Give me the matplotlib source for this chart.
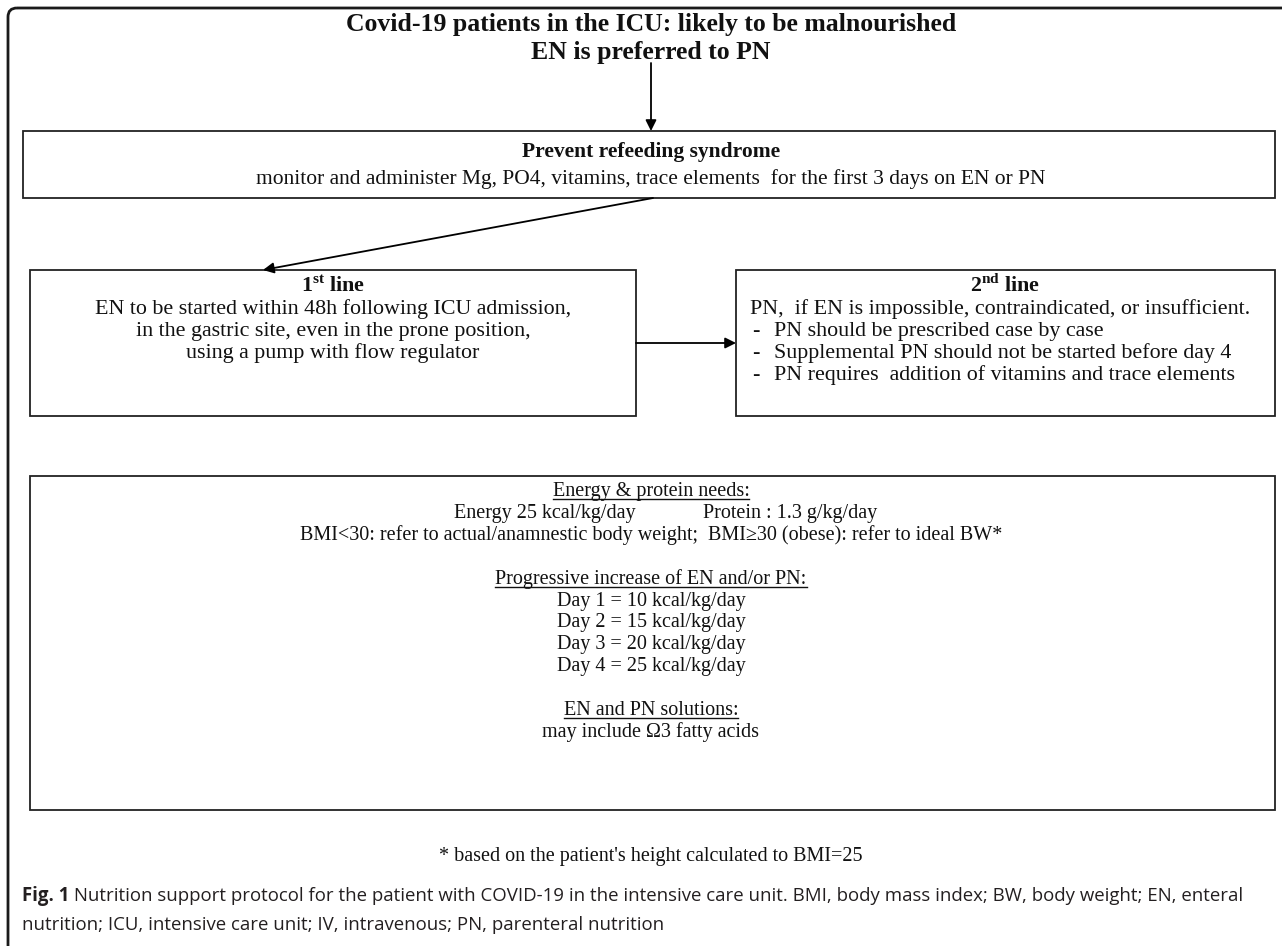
import matplotlib
matplotlib.use("Agg")
import matplotlib.pyplot as plt
from matplotlib.patches import Rectangle, FancyBboxPatch

plt.rcParams['font.family'] = ['Liberation Serif', 'DejaVu Serif']
plt.rcParams['mathtext.fontset'] = 'custom'
plt.rcParams['mathtext.rm'] = 'Liberation Serif'
plt.rcParams['mathtext.bf'] = 'Liberation Serif:bold'

# texts of the flowchart
title_lines = ["Covid-19 patients in the ICU: likely to be malnourished",
               "EN is preferred to PN"]
refeed_title = "Prevent refeeding syndrome"
refeed_text = ("monitor and administer Mg, PO4, vitamins, trace elements  "
               "for the first 3 days on EN or PN")
first_title = r"1$^{\mathbf{st}}$ line"
first_lines = ["EN to be started within 48h following ICU admission,",
               "in the gastric site, even in the prone position,",
               "using a pump with flow regulator"]
second_title = r"2$^{\mathbf{nd}}$ line"
second_head = "PN,  if EN is impossible, contraindicated, or insufficient."
second_items = ["PN should be prescribed case by case",
                "Supplemental PN should not be started before day 4",
                "PN requires  addition of vitamins and trace elements"]
needs_head = "Energy & protein needs:"
energy_need = "Energy 25 kcal/kg/day"
protein_need = "Protein : 1.3 g/kg/day"
bmi_rule = "BMI<30: refer to actual/anamnestic body weight;  BMI\u226530 (obese): refer to ideal BW*"
ramp_head = "Progressive increase of EN and/or PN:"
ramp_days = [1, 2, 3, 4]
ramp_kcal = [10, 15, 20, 25]
sol_head = "EN and PN solutions:"
sol_text = "may include \u03a93 fatty acids"
footnote = "* based on the patient's height calculated to BMI=25"
caption_bold = "Fig. 1"
caption_1 = (" Nutrition support protocol for the patient with COVID-19 in the intensive care unit. "
             "BMI, body mass index; BW, body weight; EN, enteral")
caption_2 = "nutrition; ICU, intensive care unit; IV, intravenous; PN, parenteral nutrition"

W, H = 1282, 946
fig = plt.figure(figsize=(W / 100, H / 100), dpi=100)
ax = fig.add_axes([0, 0, 1, 1])
ax.set_xlim(0, W)
ax.set_ylim(H, 0)
ax.axis('off')

body = 14.5
upper = 15.5
side = 15.8
ink = '#111111'


def box(x0, y0, x1, y1):
    ax.add_patch(Rectangle((x0, y0), x1 - x0, y1 - y0, fill=False,
                           ec='#222222', lw=1.3))


def arrow(x0, y0, x1, y1):
    ax.annotate('', xy=(x1, y1), xytext=(x0, y0),
                arrowprops=dict(arrowstyle='-|>', color='black', lw=1.3,
                                mutation_scale=16, shrinkA=0, shrinkB=0))


def line(x, y, s, ha='center', bold=False, size=body, under=False):
    t = ax.text(x, y, s, ha=ha, va='center', fontsize=size, color=ink,
                fontweight='bold' if bold else 'normal')
    if under:
        r = fig.canvas.get_renderer()
        bb = t.get_window_extent(r).transformed(ax.transData.inverted())
        yb = max(bb.y0, bb.y1) - 2
        ax.plot([bb.x0, bb.x1], [yb, yb], color=ink, lw=1.0)
    return t


# outer frame
ax.add_patch(FancyBboxPatch((8, 8), 1320, 980, boxstyle="round,pad=0,rounding_size=9",
                            fill=False, ec='#1a1a1a', lw=2.0, clip_on=True))

# title
line(651, 24, title_lines[0], bold=True, size=18.5)
line(651, 52, title_lines[1], bold=True, size=18.5)
arrow(651, 63, 651, 131)

# refeeding box
box(23, 131, 1275, 198)
line(651, 152, refeed_title, bold=True, size=upper)
line(651, 179, refeed_text, size=upper)
arrow(653, 198, 263, 270)

# 1st line
box(30, 270, 636, 416)
line(333, 286, first_title, bold=True, size=side)
for i, s in enumerate(first_lines):
    line(333, 309 + 22 * i, s, size=side)
arrow(636, 343, 736, 343)

# 2nd line
box(736, 270, 1275, 416)
line(1005, 286, second_title, bold=True, size=side)
line(750, 309, second_head, ha='left', size=side)
for i, s in enumerate(second_items):
    line(752, 331 + 22 * i, "-", ha='left', size=side)
    line(774, 331 + 22 * i, s, ha='left', size=side)

# needs box
box(30, 476, 1275, 810)
line(651, 491, needs_head, under=True)
line(545, 513, energy_need)
line(790, 513, protein_need)
line(651, 535, bmi_rule)
line(651, 579, ramp_head, under=True)
for i, (d, k) in enumerate(zip(ramp_days, ramp_kcal)):
    line(651, 601 + 21.7 * i, f"Day {d} = {k} kcal/kg/day")
line(651, 710, sol_head, under=True)
line(651, 732, sol_text)

line(651, 856, footnote)

# caption
r = fig.canvas.get_renderer()
cap_font = ['Open Sans', 'DejaVu Sans']
cap_size = 13.4
cb = ax.text(22, 896, caption_bold, ha='left', va='center', fontsize=cap_size,
             fontweight='bold', family=cap_font, color='#231f20')
bb = cb.get_window_extent(r).transformed(ax.transData.inverted())
ax.text(bb.x1, 896, caption_1, ha='left', va='center', fontsize=cap_size,
        family=cap_font, color='#231f20')
ax.text(22, 925, caption_2, ha='left', va='center', fontsize=cap_size,
        family=cap_font, color='#231f20')

fig.savefig("out.png", dpi=100)
